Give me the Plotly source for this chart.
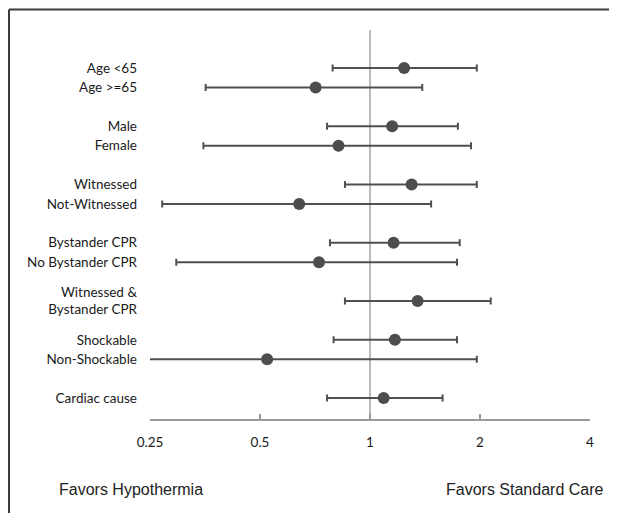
import plotly.graph_objects as go

# ---- data ----
labels = ["Age <65", "Age >=65", "Male", "Female", "Witnessed", "Not-Witnessed",
          "Bystander CPR", "No Bystander CPR", "Witnessed &<br>Bystander CPR",
          "Shockable", "Non-Shockable", "Cardiac cause"]
row_pos = [0, 1, 3, 4, 6, 7, 9, 10, 12, 14, 15, 17]
estimate = [1.24, 0.71, 1.15, 0.82, 1.30, 0.64, 1.16, 0.725, 1.35, 1.17, 0.523, 1.09]
ci_low = [0.79, 0.355, 0.763, 0.35, 0.854, 0.27, 0.777, 0.295, 0.854, 0.795, 0.22, 0.763]
ci_high = [1.96, 1.39, 1.74, 1.89, 1.96, 1.47, 1.76, 1.73, 2.14, 1.73, 1.96, 1.58]
x_ticks = [0.25, 0.5, 1, 2, 4]
x_tick_labels = ["0.25", "0.5", "1", "2", "4"]

err_plus = [h - e for h, e in zip(ci_high, estimate)]
err_minus = [e - l for e, l in zip(estimate, ci_low)]

fig = go.Figure()
fig.add_trace(go.Scatter(
    x=estimate, y=row_pos, mode="markers",
    marker=dict(size=12, color="#4d4d4d"),
    error_x=dict(type="data", array=err_plus, arrayminus=err_minus,
                 color="#505050", thickness=2, width=3.5),
    showlegend=False, hoverinfo="skip",
))

# page body has an 8px margin; figure coordinates are screen - 8
W, H = 609, 505
L, R, T, B = 142, 27, 22, 94
pw, ph = W - L - R, H - T - B

def px(x):
    return (x - 8 - L) / pw

def py(y):
    return (H - B - (y - 8)) / ph

shapes = [
    # reference line at 1
    dict(type="line", xref="x", yref="paper", x0=1, x1=1, y0=0, y1=1,
         line=dict(color="#8a8a8a", width=1.2), layer="below"),
    # frame (top and left)
    dict(type="line", xref="paper", yref="paper", x0=px(9), x1=px(630), y0=py(9.5), y1=py(9.5),
         line=dict(color="#3a3a3a", width=2)),
    dict(type="line", xref="paper", yref="paper", x0=px(9), x1=px(9), y0=py(9.5), y1=py(530),
         line=dict(color="#3a3a3a", width=2)),
]

annotations = [
    dict(text="Favors Hypothermia", xref="paper", yref="paper", x=px(57), y=py(490),
         xanchor="left", yanchor="middle", showarrow=False,
         font=dict(family="Liberation Sans, Arial", size=16, color="#222")),
    dict(text="Favors Standard Care", xref="paper", yref="paper", x=px(606), y=py(490),
         xanchor="right", yanchor="middle", showarrow=False,
         font=dict(family="Liberation Sans, Arial", size=16, color="#222")),
]

fig.update_layout(
    width=W, height=H,
    margin=dict(l=L, r=R, t=T, b=B, pad=0),
    paper_bgcolor="white", plot_bgcolor="white",
    font=dict(family="Lato, Open Sans, sans-serif", size=13.5, color="#1a1a1a"),
    shapes=shapes, annotations=annotations,
    xaxis=dict(type="log", range=[-0.60206, 0.60206], tickvals=x_ticks, ticktext=x_tick_labels,
               showgrid=False, zeroline=False, showline=True, linecolor="#9a9a9a", linewidth=1.5,
               ticks="inside", ticklen=5, tickcolor="#9a9a9a", tickwidth=1.5,
               ticklabelstandoff=10, tickfont=dict(size=13.5)),
    yaxis=dict(range=[18.08, -1.96], tickvals=row_pos, ticktext=labels,
               showgrid=False, zeroline=False, showline=False, ticks="",
               ticklabelstandoff=12, tickfont=dict(size=13.5)),
)

fig.write_html("out.html")
